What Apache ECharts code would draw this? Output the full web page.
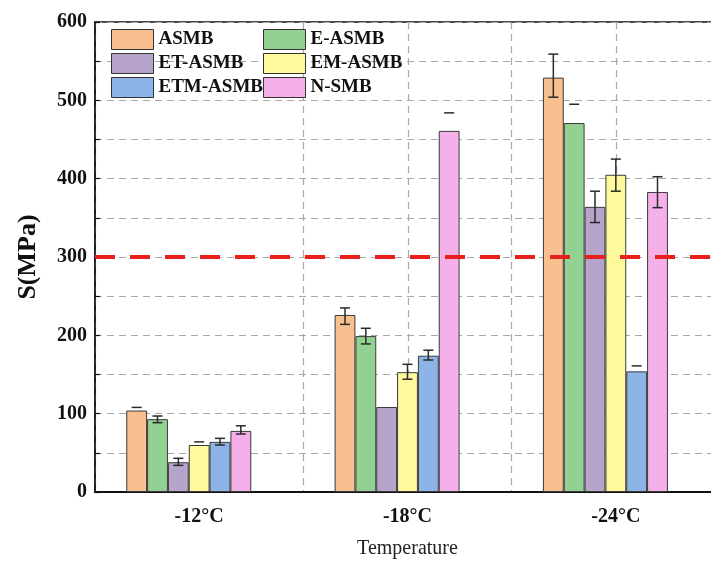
<!DOCTYPE html>
<html lang="en">
<head>
<meta charset="UTF-8">
<title>S(MPa) vs Temperature</title>
<script src="https://cdn.jsdelivr.net/npm/echarts@6/dist/echarts.min.js"></script>
<style>html,body{margin:0;padding:0;background:#fff;overflow:hidden;}</style>
</head>
<body>
<!-- a bit wider than the window: the original figure is cut off at the right -->
<div id="chart" style="width:722px;height:561px;"></div>
<script>
// data
var categories = ['-12°C', '-18°C', '-24°C'];
var names = ['ASMB', 'E-ASMB', 'ET-ASMB', 'EM-ASMB', 'ETM-ASMB', 'N-SMB'];
var values = [
    [104, 226, 529],   // ASMB
    [93, 199, 471],    // E-ASMB
    [38, 108.5, 364],  // ET-ASMB
    [60, 153, 405],    // EM-ASMB
    [64, 174, 154],    // ETM-ASMB
    [78, 461, 383]     // N-SMB
];
// error bar ends (null = not drawn)
var errHigh = [
    [108, 235, 559],
    [97, 209, 495],
    [43, null, 384],
    [64, 163, 425],
    [68.5, 181, 161],
    [84.5, 484, 402.5]
];
var errLow = [
    [null, 214, 504],
    [88.5, 189, null],
    [34, null, 344],
    [null, 144, 384],
    [60, 168.5, null],
    [74, null, 363]
];
var limitValue = 300;
var colors = ['#F8C08E', '#93D192', '#B6A4CA', '#FEF99B', '#8DB4E7', '#F5B0EA'];

var font = 'Liberation Serif';
var barRatio = 0.1;   // bar width as share of category band (7 slots incl. empty one)
var gridDash = { color: '#a8a8a8', width: 1.2, type: [7, 5] };

var chart = echarts.init(document.getElementById('chart'));

var series = [];
for (var i = 0; i < names.length; i++) {
    series.push({
        name: names[i],
        type: 'bar',
        data: values[i],
        barWidth: '10%',
        barGap: '0%',
        z: 2,
        itemStyle: { color: colors[i], borderColor: '#3a3a3a', borderWidth: 1 }
    });
}
// empty slot on the right, the groups sit left of the tick in the original
series.push({
    name: 'pad',
    type: 'bar',
    data: [null, null, null],
    barWidth: '10%',
    z: 1
});
// dashed vertical lines through the 2nd and 3rd category centres, behind the bars
series.push({
    name: 'vlines',
    type: 'custom',
    z: 1,
    silent: true,
    data: [[1, 0], [2, 0]],
    encode: { x: 0, y: 1 },
    renderItem: function (params, api) {
        var cs = params.coordSys;
        var x = Math.round(api.coord([api.value(0), 0])[0]) + 0.5;
        return {
            type: 'line',
            shape: { x1: x, y1: cs.y, x2: x, y2: cs.y + cs.height },
            style: { stroke: gridDash.color, lineWidth: gridDash.width, lineDash: gridDash.type }
        };
    }
});

var errData = [];
for (var k = 0; k < names.length; k++) {
    for (var c = 0; c < categories.length; c++) {
        errData.push([c, k, errLow[k][c] == null ? -1 : errLow[k][c], errHigh[k][c] == null ? -1 : errHigh[k][c]]);
    }
}

series.push({
    name: 'err',
    type: 'custom',
    z: 5,
    data: errData,
    encode: { x: 0, y: 3 },
    renderItem: function (params, api) {
        var cat = api.value(0), k = api.value(1), lo = api.value(2), hi = api.value(3);
        var band = api.size([1, 0])[0];
        var bw = band * barRatio;
        var cx = api.coord([cat, 0])[0] - bw * 3.5 + bw * (k + 0.5);
        var half = 5;
        var st = { stroke: '#2a2a2a', lineWidth: 1.5 };
        var kids = [];
        var yHi = hi >= 0 ? api.coord([cat, hi])[1] : null;
        var yLo = lo >= 0 ? api.coord([cat, lo])[1] : null;
        if (yHi != null) kids.push({ type: 'line', shape: { x1: cx - half, y1: yHi, x2: cx + half, y2: yHi }, style: st });
        if (yLo != null) kids.push({ type: 'line', shape: { x1: cx - half, y1: yLo, x2: cx + half, y2: yLo }, style: st });
        if (yHi != null && yLo != null) kids.push({ type: 'line', shape: { x1: cx, y1: yHi, x2: cx, y2: yLo }, style: st });
        return { type: 'group', children: kids };
    },
    markLine: {
        silent: true,
        symbol: 'none',
        z: 10,
        label: { show: false },
        lineStyle: { color: '#E8201C', width: 4, type: [20, 15] },
        data: [{ yAxis: limitValue }]
    }
});

var legendBase = {
    orient: 'vertical',
    top: 29,
    padding: 0,
    itemWidth: 42,
    itemHeight: 20,
    itemGap: 3,
    icon: 'rect',
    itemStyle: { borderColor: '#333', borderWidth: 1 },
    textStyle: { fontFamily: font, fontWeight: 'bold', fontSize: 19, color: '#111' }
};

var option = {
    animation: false,
    backgroundColor: '#fff',
    grid: {
        left: 95, top: 22, right: 2, bottom: 69,
        outerBoundsMode: 'none',
        show: true, borderColor: '#111', borderWidth: 1.5
    },
    legend: [
        Object.assign({}, legendBase, { left: 111, data: [names[0], names[2], names[4]] }),
        Object.assign({}, legendBase, { left: 263, data: [names[1], names[3], names[5]] })
    ],
    xAxis: {
        type: 'category',
        data: categories,
        name: 'Temperature',
        nameLocation: 'middle',
        nameGap: 47,
        nameTextStyle: { fontFamily: font, fontSize: 20, color: '#222' },
        axisLine: { lineStyle: { color: '#111', width: 2 } },
        axisTick: { inside: true, alignWithLabel: true, length: 6, lineStyle: { color: '#111', width: 1.5 } },
        axisLabel: { fontFamily: font, fontWeight: 'bold', fontSize: 20, color: '#111', margin: 15 },
        splitLine: { show: true, lineStyle: gridDash }
    },
    yAxis: {
        type: 'value',
        min: 0,
        max: 600,
        interval: 50,
        name: 'S(MPa)',
        nameLocation: 'middle',
        nameGap: 54,
        nameTextStyle: { fontFamily: font, fontWeight: 'bold', fontSize: 26, color: '#111' },
        axisLine: { show: true, lineStyle: { color: '#111', width: 1.5 } },
        axisTick: { show: true, inside: true, length: 5, lineStyle: { color: '#111', width: 1.2 } },
        axisLabel: {
            fontFamily: font, fontWeight: 'bold', fontSize: 20, color: '#111', margin: 8,
            formatter: function (v) { return v % 100 === 0 ? v : ''; }
        },
        splitLine: { show: true, lineStyle: gridDash }
    },
    series: series
};

chart.setOption(option);
</script>
</body>
</html>
